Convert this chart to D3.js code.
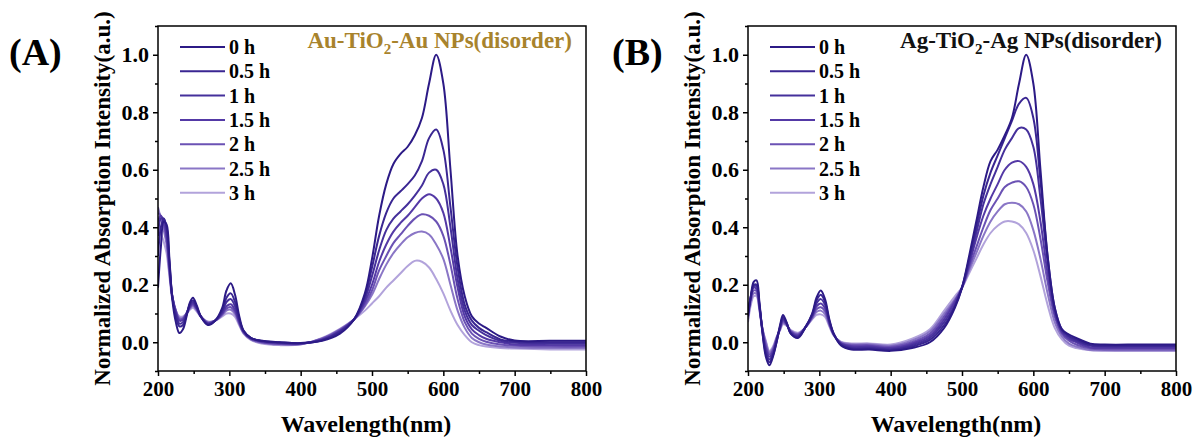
<!DOCTYPE html>
<html>
<head>
<meta charset="utf-8">
<script src="https://cdn.jsdelivr.net/npm/d3@7"></script>
<style>
  body { margin: 0; background: #fff; }
  text { font-family: "Liberation Serif", "Times New Roman", serif; font-weight: bold; }
</style>
</head>
<body>
<svg id="chart" width="1196" height="439"></svg>
<script>
const wavelengths = [200,204,208,212,216,220,225,230,235,240,245,249,254,260,270,280,290,296,302,308,314,320,330,345,370,400,430,455,475,490,500,510,520,530,540,550,560,570,580,590,600,610,620,630,640,650,660,680,700,750,800]

const hours = ['0 h', '0.5 h', '1 h', '1.5 h', '2 h', '2.5 h', '3 h']

const xTicks = [200, 300, 400, 500, 600, 700, 800]
const yTicks = [0.0, 0.2, 0.4, 0.6, 0.8, 1.0]

// Au-TiO2-Au, one row per hour
const auSeries = [
  [0.19,0.33,0.42,0.41,0.29,0.15,0.07,0.032,0.045,0.09,0.14,0.155,0.13,0.09,0.06,0.075,0.12,0.18,0.205,0.165,0.09,0.04,0.015,0.005,0.0,-0.003,0.005,0.03,0.08,0.17,0.29,0.44,0.55,0.62,0.655,0.68,0.72,0.78,0.9,1.0,0.9,0.6,0.3,0.16,0.09,0.065,0.05,0.02,0.006,0.005,0.005],
  [0.3,0.4,0.43,0.40,0.28,0.16,0.09,0.055,0.06,0.095,0.135,0.145,0.125,0.09,0.062,0.075,0.11,0.155,0.17,0.14,0.08,0.04,0.015,0.005,0.0,-0.003,0.007,0.035,0.08,0.16,0.26,0.37,0.45,0.5,0.525,0.55,0.58,0.63,0.71,0.74,0.67,0.47,0.26,0.13,0.075,0.05,0.035,0.01,0.003,0.0,0.0],
  [0.37,0.43,0.43,0.39,0.27,0.16,0.1,0.065,0.07,0.1,0.13,0.14,0.12,0.09,0.064,0.075,0.105,0.14,0.15,0.125,0.075,0.038,0.015,0.004,-0.002,-0.004,0.008,0.038,0.08,0.15,0.23,0.32,0.39,0.43,0.455,0.48,0.51,0.545,0.59,0.6,0.55,0.4,0.22,0.11,0.06,0.04,0.025,0.005,-0.002,-0.005,-0.005],
  [0.42,0.44,0.42,0.37,0.26,0.16,0.105,0.075,0.078,0.1,0.125,0.135,0.118,0.09,0.066,0.075,0.1,0.125,0.132,0.112,0.07,0.036,0.013,0.002,-0.004,-0.005,0.01,0.04,0.08,0.14,0.2,0.28,0.34,0.385,0.415,0.44,0.47,0.5,0.515,0.5,0.45,0.33,0.19,0.09,0.045,0.025,0.012,0.0,-0.008,-0.01,-0.01],
  [0.45,0.44,0.41,0.36,0.25,0.16,0.11,0.08,0.082,0.1,0.122,0.13,0.115,0.09,0.068,0.075,0.097,0.117,0.122,0.105,0.066,0.034,0.012,0.0,-0.006,-0.006,0.012,0.043,0.08,0.13,0.18,0.25,0.3,0.345,0.375,0.405,0.43,0.445,0.44,0.42,0.37,0.27,0.15,0.07,0.03,0.012,0.002,-0.008,-0.012,-0.015,-0.015],
  [0.47,0.43,0.39,0.34,0.24,0.16,0.11,0.085,0.086,0.1,0.118,0.126,0.112,0.09,0.07,0.075,0.094,0.11,0.113,0.098,0.063,0.032,0.01,-0.002,-0.008,-0.007,0.013,0.045,0.08,0.125,0.165,0.22,0.27,0.31,0.34,0.365,0.38,0.385,0.375,0.34,0.29,0.2,0.11,0.05,0.015,0.0,-0.008,-0.015,-0.018,-0.02,-0.02],
  [0.44,0.38,0.35,0.31,0.23,0.15,0.11,0.09,0.09,0.1,0.114,0.12,0.108,0.088,0.072,0.075,0.09,0.1,0.1,0.088,0.058,0.03,0.008,-0.004,-0.01,-0.008,0.015,0.047,0.08,0.11,0.135,0.16,0.19,0.215,0.24,0.265,0.283,0.28,0.26,0.22,0.17,0.11,0.06,0.025,0.0,-0.01,-0.015,-0.02,-0.022,-0.025,-0.025]
]

// Ag-TiO2-Ag, one row per hour
const agSeries = [
  [0.09,0.16,0.21,0.215,0.14,0.04,-0.05,-0.08,-0.05,0.0,0.06,0.095,0.07,0.03,0.015,0.05,0.1,0.155,0.18,0.15,0.08,0.03,-0.01,-0.025,-0.025,-0.03,-0.02,0.0,0.05,0.12,0.19,0.3,0.42,0.54,0.63,0.67,0.72,0.78,0.9,1.0,0.9,0.6,0.3,0.12,0.045,0.027,0.015,-0.005,-0.008,-0.008,-0.008],
  [0.1,0.16,0.2,0.2,0.13,0.04,-0.04,-0.07,-0.045,0.0,0.055,0.088,0.068,0.03,0.018,0.05,0.097,0.145,0.165,0.14,0.075,0.03,-0.008,-0.022,-0.022,-0.027,-0.015,0.008,0.06,0.125,0.19,0.29,0.4,0.51,0.59,0.65,0.71,0.77,0.83,0.85,0.78,0.56,0.3,0.12,0.045,0.022,0.01,-0.01,-0.012,-0.012,-0.012],
  [0.1,0.16,0.195,0.195,0.13,0.045,-0.03,-0.06,-0.04,0.005,0.052,0.082,0.066,0.033,0.02,0.05,0.093,0.135,0.15,0.13,0.072,0.03,-0.005,-0.018,-0.018,-0.024,-0.01,0.015,0.07,0.13,0.19,0.28,0.38,0.48,0.55,0.61,0.67,0.71,0.745,0.74,0.68,0.5,0.28,0.11,0.04,0.018,0.005,-0.012,-0.015,-0.015,-0.015],
  [0.1,0.155,0.19,0.185,0.125,0.05,-0.02,-0.05,-0.032,0.01,0.05,0.077,0.064,0.036,0.024,0.05,0.09,0.125,0.135,0.118,0.068,0.028,-0.003,-0.014,-0.014,-0.02,-0.005,0.022,0.08,0.14,0.19,0.27,0.36,0.44,0.5,0.55,0.6,0.625,0.63,0.61,0.55,0.42,0.24,0.1,0.035,0.012,0.0,-0.018,-0.02,-0.02,-0.02],
  [0.09,0.15,0.18,0.178,0.12,0.05,-0.01,-0.042,-0.026,0.012,0.048,0.072,0.062,0.038,0.027,0.05,0.087,0.115,0.122,0.108,0.064,0.027,-0.002,-0.01,-0.01,-0.016,0.0,0.03,0.09,0.145,0.19,0.26,0.33,0.4,0.46,0.5,0.54,0.555,0.56,0.54,0.48,0.36,0.21,0.09,0.03,0.005,-0.008,-0.022,-0.025,-0.025,-0.025],
  [0.08,0.14,0.17,0.168,0.115,0.05,0.0,-0.035,-0.02,0.015,0.045,0.067,0.06,0.04,0.03,0.05,0.083,0.105,0.11,0.098,0.06,0.026,0.0,-0.007,-0.007,-0.012,0.006,0.038,0.1,0.15,0.19,0.25,0.31,0.37,0.42,0.455,0.48,0.485,0.48,0.455,0.39,0.29,0.17,0.07,0.02,-0.005,-0.015,-0.027,-0.028,-0.028,-0.028],
  [0.07,0.13,0.16,0.16,0.11,0.05,0.005,-0.03,-0.015,0.018,0.042,0.062,0.058,0.042,0.033,0.05,0.08,0.095,0.097,0.088,0.055,0.024,0.002,-0.004,-0.004,-0.008,0.012,0.045,0.11,0.16,0.19,0.24,0.29,0.34,0.38,0.405,0.42,0.42,0.41,0.38,0.32,0.23,0.13,0.05,0.01,-0.012,-0.02,-0.028,-0.03,-0.03,-0.03]
]

const lineColors = ['#2c1a86', '#3a2692', '#45309b', '#5439a6', '#6b52b4', '#8a76c6', '#b2a3db']

const svg = d3.select('#chart')

function drawPanel(cfg) {
    const left = cfg.left, right = cfg.left + 428, top = 26, bottom = 371

    const x = d3.scaleLinear().domain([200, 800]).range([left, right])
    const y = d3.scaleLinear().domain([-0.1, 1.1]).range([bottom, top])

    const g = svg.append('g')

    g.append('clipPath').attr('id', 'clip' + cfg.id)
        .append('rect')
        .attr('x', left).attr('y', top)
        .attr('width', right - left).attr('height', bottom - top)

    const line = d3.line()
        .x((d, i) => x(wavelengths[i]))
        .y(d => y(d))
        .curve(d3.curveCatmullRom.alpha(0.5))

    // lightest drawn first so the dark curve sits on top
    g.append('g')
        .attr('clip-path', `url(#clip${cfg.id})`)
        .selectAll('path')
        .data(cfg.series.map((s, i) => ({ s, i })).reverse())
        .join('path')
        .attr('d', d => line(d.s))
        .attr('fill', 'none')
        .attr('stroke', d => lineColors[d.i])
        .attr('stroke-width', 2)

    // axes
    const xAxis = d3.axisBottom(x).tickValues(xTicks).tickSize(5).tickPadding(5).tickFormat(d3.format('d'))
    const xMinor = d3.axisBottom(x).tickValues(d3.range(250, 800, 100)).tickSize(3).tickFormat('')
    const yAxis = d3.axisLeft(y).tickValues(yTicks).tickSize(5).tickPadding(4).tickFormat(d3.format('.1f'))
    const yMinor = d3.axisLeft(y).tickValues([-0.1, 0.1, 0.3, 0.5, 0.7, 0.9, 1.1]).tickSize(3).tickFormat('')

    const styleAxis = size => a => {
        a.select('.domain').remove()
        a.selectAll('line').attr('stroke', '#000').attr('stroke-width', 1.5)
        a.selectAll('text').attr('fill', '#000').style('font-size', size)
            .style('font-family', '"Liberation Serif", serif').style('font-weight', 'bold')
    }

    g.append('g').attr('transform', `translate(0,${bottom})`).call(xAxis).call(styleAxis('21px'))
    g.append('g').attr('transform', `translate(0,${bottom})`).call(xMinor).call(styleAxis('21px'))
    g.append('g').attr('transform', `translate(${left},0)`).call(yAxis).call(styleAxis('22px'))
    g.append('g').attr('transform', `translate(${left},0)`).call(yMinor).call(styleAxis('22px'))

    g.append('rect')
        .attr('x', left).attr('y', top)
        .attr('width', right - left).attr('height', bottom - top)
        .attr('fill', 'none').attr('stroke', '#000').attr('stroke-width', 1.5)

    // titles
    g.append('text')
        .attr('x', (left + right) / 2 - 6).attr('y', 432)
        .attr('text-anchor', 'middle')
        .style('font-size', '24px')
        .text('Wavelength(nm)')

    g.append('text')
        .attr('transform', `translate(${left - 48},${(top + bottom) / 2}) rotate(-90)`)
        .attr('text-anchor', 'middle')
        .style('font-size', '23px')
        .text('Normalized Absorption Intensity(a.u.)')

    g.append('text')
        .attr('x', cfg.labelX).attr('y', 65)
        .style('font-size', '38px')
        .text(cfg.label)

    // sample name with subscript 2
    const name = g.append('text')
        .attr('x', right - 14).attr('y', 48)
        .attr('text-anchor', 'end')
        .attr('fill', cfg.nameColor)
        .style('font-size', '23px')
    name.append('tspan').text(cfg.metal + '-TiO')
    name.append('tspan').attr('dy', 6).style('font-size', '15px').text('2')
    name.append('tspan').attr('dy', -6).text('-' + cfg.metal + ' NPs(disorder)')

    // legend
    const legend = g.append('g')
        .selectAll('g')
        .data(hours)
        .join('g')
        .attr('transform', (d, i) => `translate(${left + 22},${47 + i * 24.3})`)
    legend.append('line')
        .attr('x1', 0).attr('x2', 45)
        .attr('stroke', (d, i) => lineColors[i])
        .attr('stroke-width', 2)
    legend.append('text')
        .attr('x', 49).attr('dy', '0.35em')
        .style('font-size', '20px')
        .text(d => d)
}

drawPanel({ id: 'A', left: 158, series: auSeries, label: '(A)', labelX: 9, metal: 'Au', nameColor: '#a8832c' })
drawPanel({ id: 'B', left: 748, series: agSeries, label: '(B)', labelX: 612, metal: 'Ag', nameColor: '#111' })
</script>
</body>
</html>
